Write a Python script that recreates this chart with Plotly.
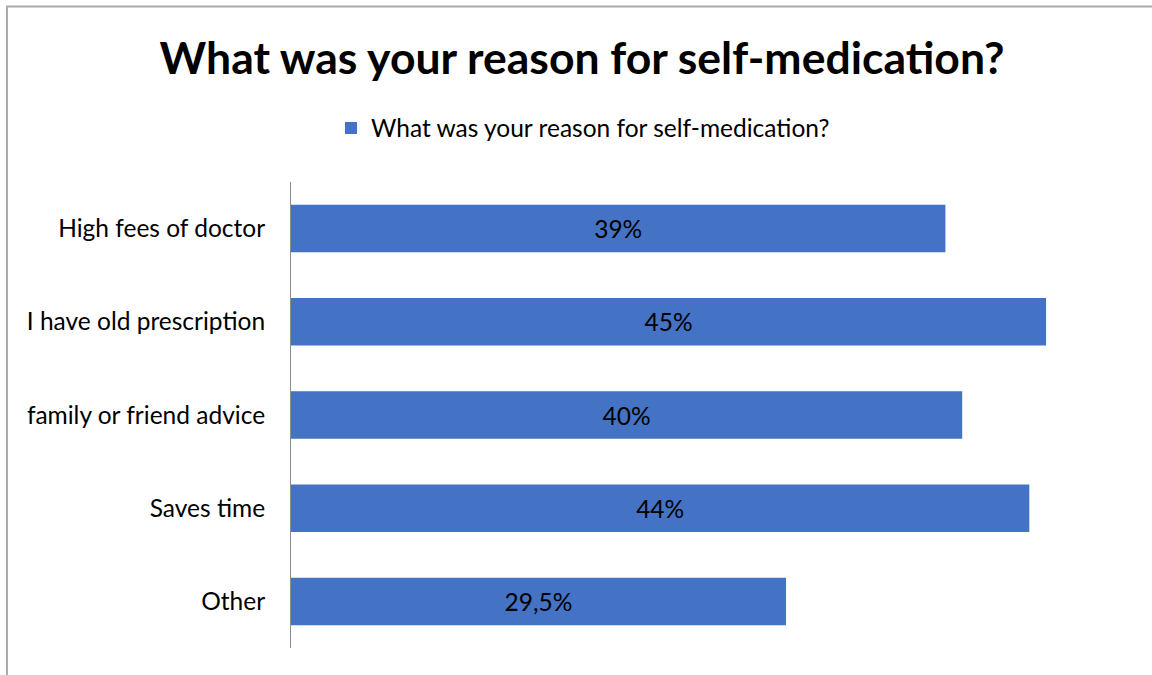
import plotly.graph_objects as go

categories = ["High fees of doctor", "I have old prescription", "family or friend advice", "Saves time", "Other"]
values = [39, 45, 40, 44, 29.5]
value_labels = ["39%", "45%", "40%", "44%", "29,5%"]
series_name = "What was your reason for self-medication?"
title_text = "What was your reason for self-medication?"

W, H = 1152, 675
L, R, T, B = 291, 22, 182, 27
pw, ph = W - L - R, H - T - B

def px_x(x):
    return (x - L) / pw

def px_y(y):
    return (H - B - y) / ph

font_family = "Lato, 'Open Sans', sans-serif"

fig = go.Figure()
fig.add_trace(go.Bar(
    y=categories, x=values, orientation="h", name=series_name,
    marker=dict(color="#4472C4", line=dict(width=0)),
    text=value_labels, textposition="inside", insidetextanchor="middle",
    textfont=dict(color="#000000", size=24.5, family=font_family),
    showlegend=True,
))

fig.update_layout(
    width=W, height=H,
    margin=dict(l=L, r=R, t=T, b=B, pad=0),
    paper_bgcolor="white", plot_bgcolor="white",
    font=dict(family=font_family, color="#000000", size=24.5),
    title=dict(text="<b>" + title_text + "</b>", x=582 / W, xref="container", xanchor="center",
               y=1 - 58 / H, yref="container", yanchor="middle",
               font=dict(size=44.5, family=font_family, color="#000000")),
    bargap=0.49,
    showlegend=True,
    legend=dict(orientation="h", x=px_x(583), xanchor="center", y=px_y(128), yanchor="middle",
                font=dict(size=24.5, family=font_family, color="#000000"),
                itemsizing="constant", bgcolor="rgba(0,0,0,0)"),
    xaxis=dict(range=[0, 50], showticklabels=False, showgrid=False, zeroline=False,
               showline=False, ticks=""),
    yaxis=dict(autorange="reversed", showline=True, linecolor="#8c8c8c", linewidth=1,
               ticks="", showgrid=False, ticklabelstandoff=20,
               tickfont=dict(size=24.5, family=font_family, color="#000000")),
)

fig.add_shape(type="rect", xref="paper", yref="paper",
              x0=px_x(7), x1=px_x(1165), y0=px_y(690), y1=px_y(6.5),
              line=dict(color="#ababab", width=2), fillcolor="rgba(0,0,0,0)", layer="below")

fig.write_html("out.html", config={"displayModeBar": False},
               post_script="document.body.style.margin='0';document.body.style.overflow='hidden';")
